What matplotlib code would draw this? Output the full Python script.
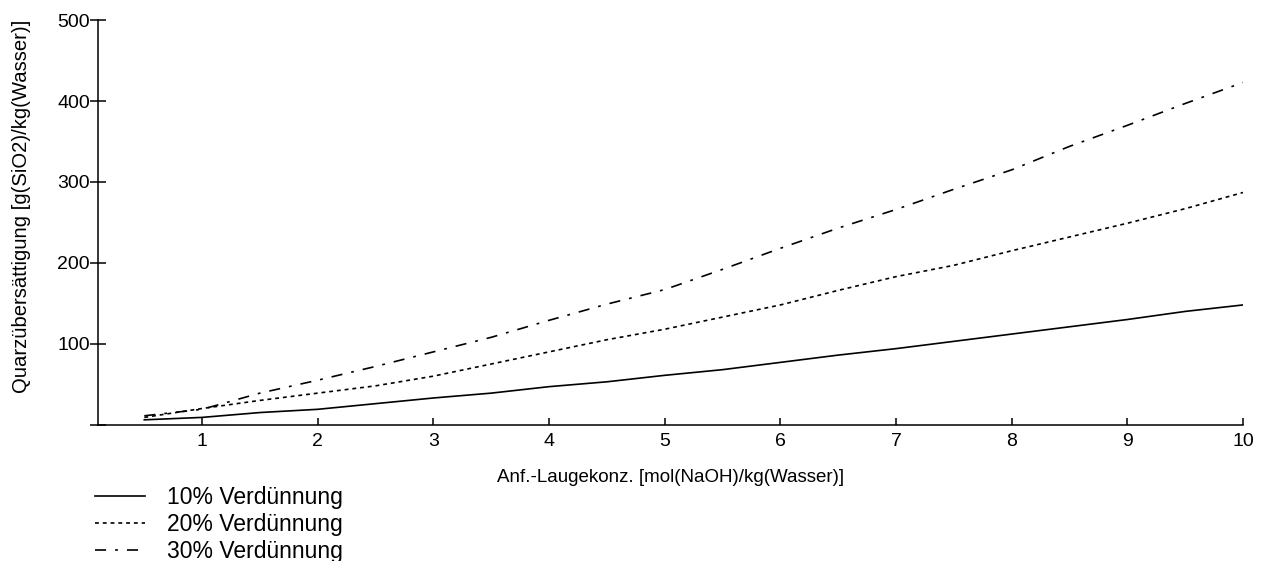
import matplotlib
matplotlib.use("Agg")
import matplotlib.pyplot as plt
from matplotlib.ticker import FuncFormatter

plt.rcParams['font.family'] = ['Liberation Sans', 'DejaVu Sans']
plt.rcParams['lines.scale_dashes'] = False

# initial lye concentration [mol(NaOH)/kg(water)]
konz = [0.5, 1.0, 1.5, 2.0, 2.5, 3.0, 3.5, 4.0, 4.5, 5.0,
        5.5, 6.0, 6.5, 7.0, 7.5, 8.0, 8.5, 9.0, 9.5, 10.0]

# quartz supersaturation [g(SiO2)/kg(water)]
verd_10 = [6, 9, 15, 19, 26, 33, 39, 47, 53, 61,
           68, 77, 86, 94, 103, 112, 121, 130, 140, 148]
verd_20 = [9, 20, 30, 39, 48, 60, 75, 90, 105, 118,
           133, 148, 166, 183, 197, 215, 232, 249, 267, 287]
verd_30 = [11, 19, 39, 55, 72, 90, 108, 129, 149, 167,
           192, 218, 243, 266, 291, 315, 344, 370, 397, 423]

labels = ['10% Verdünnung', '20% Verdünnung', '30% Verdünnung']
y_ticks = [0, 100, 200, 300, 400, 500]
x_ticks = [1, 2, 3, 4, 5, 6, 7, 8, 9, 10]

fig = plt.figure(figsize=(12.7, 5.61), dpi=100)
ax = fig.add_axes([0.0772, 0.243, 0.9015, 0.721])

lw = 1.2
ax.plot(konz, verd_10, color='black', lw=lw, label=labels[0])
ax.plot(konz, verd_20, color='black', lw=lw, dashes=(2.8, 2.8), label=labels[1])
ax.plot(konz, verd_30, color='black', lw=lw, dashes=(8, 6.5, 2, 6.5), label=labels[2])

ax.set_xlim(0.1, 10)
ax.set_ylim(0, 500)
ax.set_xticks(x_ticks)
ax.set_yticks(y_ticks)
ax.yaxis.set_major_formatter(FuncFormatter(lambda v, p: '' if v == 0 else f'{v:.0f}'))

for side in ['top', 'right']:
    ax.spines[side].set_visible(False)
for side in ['left', 'bottom']:
    ax.spines[side].set_linewidth(1.1)

ax.tick_params(axis='y', direction='inout', length=11.5, width=1.1, labelsize=14, pad=0)
ax.tick_params(axis='x', direction='in', length=5, width=1.1, labelsize=14, pad=6)

ax.set_xlabel('Anf.-Laugekonz. [mol(NaOH)/kg(Wasser)]', fontsize=13.5, labelpad=14)
fig.text(0.017, 0.633, 'Quarzübersättigung [g(SiO2)/kg(Wasser)]', rotation=90,
         fontsize=14.6, ha='center', va='center')

ax.legend(loc='upper left', bbox_to_anchor=(0.0745, 0.133), bbox_transform=fig.transFigure,
          frameon=False, fontsize=16.5, handlelength=2.22, handletextpad=0.96,
          labelspacing=0.16, borderpad=0, borderaxespad=0)

fig.savefig('out.png', dpi=100)
